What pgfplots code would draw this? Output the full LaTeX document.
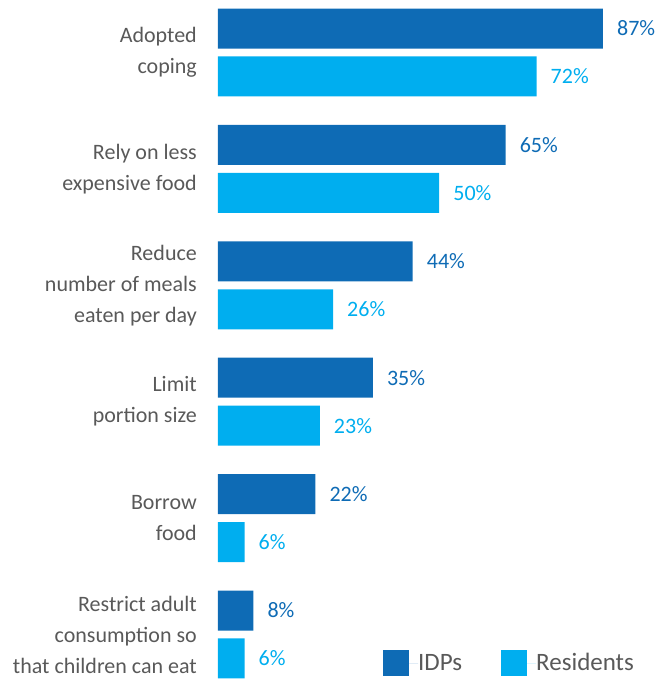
\documentclass[border=0pt]{standalone}
\usepackage{pgfplots}
\pgfplotsset{compat=1.18}
\usepackage{pgfplotstable}
\usepackage{fontspec}
\setmainfont{Carlito}
\definecolor{idp}{HTML}{0E6BB5}
\definecolor{res}{HTML}{00AEEF}
\definecolor{lbl}{HTML}{595959}
\pgfplotstableread{
y v
6.206 87
5.206 65
4.206 44
3.206 35
2.206 22
1.206 8
}\idps
\pgfplotstableread{
y v
5.794 72
4.794 50
3.794 26
2.794 23
1.794 6
0.794 6
}\resid
\begin{document}
\begin{tikzpicture}
\useasboundingbox (-218pt,0pt) rectangle (438pt,680pt);
\begin{axis}[
  scale only axis,
  width=438pt, height=680pt,
  xmin=0, xmax=99,
  ymin=0.609, ymax=6.451,
  axis line style={draw=none},
  xtick=\empty,
  ytick={1,2,3,4,5,6},
  yticklabels={{Restrict adult\\consumption so\\that children can eat},{Borrow\\food},{Limit\\portion size},{Reduce\\number of meals\\eaten per day},{Rely on less\\expensive food},{Adopted\\coping}},
  major tick length=0pt,
  yticklabel style={align=right, anchor=east, inner sep=0pt, xshift=-21pt, text=lbl, font=\fontsize{22}{31}\selectfont},
  xbar, bar width=40pt, bar shift=0pt,
  clip=false,
  /pgf/number format/assume math mode=true,
  nodes near coords={\pgfmathprintnumber{\pgfplotspointmeta}\%},
  point meta=x,
  nodes near coords style={anchor=west, inner sep=0pt, xshift=14pt, font=\fontsize{22}{26}\selectfont},
  legend style={draw=none, fill=none, at={(axis description cs:0.3767,0.025)}, anchor=west, legend columns=2, font=\fontsize{25}{28}\selectfont, text=lbl, inner sep=0pt, nodes={inner sep=0pt}, /tikz/every even column/.append style={column sep=39pt}},
  legend image code/.code={\fill[#1] (0pt,-13pt) rectangle (26pt,13pt); \path (0pt,0pt) -- (35pt,0pt);},
]
\addplot[fill=idp, draw=none, nodes near coords style={text=idp}] table[x=v, y=y] {\idps};
\addlegendentry{IDPs}
\addplot[fill=res, draw=none, nodes near coords style={text=res}] table[x=v, y=y] {\resid};
\addlegendentry{Residents}
\end{axis}
\end{tikzpicture}
\end{document}
